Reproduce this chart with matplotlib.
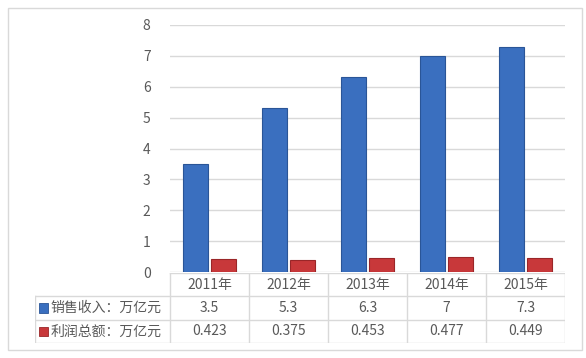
import matplotlib.pyplot as plt
from matplotlib.patches import Rectangle

plt.rcParams['font.family'] = ['Noto Sans CJK SC', 'DejaVu Sans']

years = ['2011年', '2012年', '2013年', '2014年', '2015年']
sales = [3.5, 5.3, 6.3, 7, 7.3]
profit = [0.423, 0.375, 0.453, 0.477, 0.449]
sales_label = '销售收入：万亿元'
profit_label = '利润总额：万亿元'
sales_text = ['3.5', '5.3', '6.3', '7', '7.3']
profit_text = ['0.423', '0.375', '0.453', '0.477', '0.449']

blue = '#3A6FBF'
red = '#C8383A'
grid_c = '#D9D9D9'
text_c = '#595959'
W, H = 586, 358

fig = plt.figure(figsize=(W / 100, H / 100), dpi=100)

# outer frame
fig.patches.append(Rectangle((8 / W, 8 / H), 574 / W, 342 / H, transform=fig.transFigure,
                             fill=False, edgecolor=grid_c, linewidth=1))

# bar chart
ax = fig.add_axes([170 / W, (H - 272) / H, 395 / W, 247 / H])
x = list(range(len(years)))
bw = 0.32
ax.bar([i - 0.18 for i in x], sales, width=bw, color=blue, edgecolor='#2A5597', linewidth=0.8, zorder=3)
ax.bar([i + 0.18 for i in x], profit, width=bw, color=red, edgecolor='#9A2628', linewidth=0.8, zorder=3)
ax.set_xlim(-0.5, 4.5)
ax.set_ylim(0, 8)
ax.set_yticks(range(0, 9))
ax.yaxis.grid(True, color=grid_c, linewidth=1)
ax.set_axisbelow(True)
ax.set_xticks([])
for s in ax.spines.values():
    s.set_visible(False)
ax.tick_params(axis='y', length=0, pad=14, labelsize=10, labelcolor=text_c)

# data table below
lab_w = 135 / 79
tb = fig.add_axes([35 / W, (H - 343) / H, 530 / W, 70 / H])
tb.set_xlim(-0.5 - lab_w, 4.5)
tb.set_ylim(0, 3)
tb.axis('off')
lw = 1
# horizontal lines
tb.plot([-0.5, 4.5], [3, 3], color=grid_c, lw=lw)
for yy in [2, 1, 0]:
    tb.plot([-0.5 - lab_w, 4.5], [yy, yy], color=grid_c, lw=lw)
# vertical lines
tb.plot([-0.5 - lab_w, -0.5 - lab_w], [0, 2], color=grid_c, lw=lw)
for i in range(len(years) + 1):
    tb.plot([i - 0.5, i - 0.5], [0, 3], color=grid_c, lw=lw)

for i, yr in enumerate(years):
    tb.text(i, 2.5, yr, ha='center', va='center', fontsize=10, color=text_c)
    tb.text(i, 1.5, sales_text[i], ha='center', va='center', fontsize=10, color=text_c)
    tb.text(i, 0.5, profit_text[i], ha='center', va='center', fontsize=10, color=text_c)

for row, label, col, ec in [(1.5, sales_label, blue, '#2A5597'), (0.5, profit_label, red, '#9A2628')]:
    tb.add_patch(Rectangle((-0.5 - lab_w + 0.05, row - 0.2), 0.12, 0.4, facecolor=col,
                           edgecolor=ec, linewidth=0.6, clip_on=False))
    tb.text(-0.5 - lab_w + 0.2, row, label, ha='left', va='center', fontsize=10, color=text_c)

fig.savefig('out.png', dpi=100)
